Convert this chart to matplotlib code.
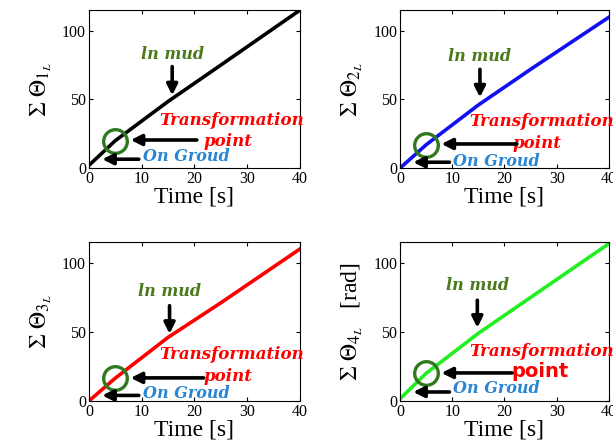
import matplotlib
matplotlib.use("Agg")
import matplotlib.pyplot as plt

plt.rcParams['font.family'] = 'Liberation Serif'
plt.rcParams['mathtext.fontset'] = 'stix'

# time samples [s] and cumulated leg angles [rad]
time = [0, 5, 15, 25, 40]
theta1 = [2, 20, 48.5, 75, 115]
theta2 = [0, 17, 46, 72, 110]
theta3 = [0, 16.5, 46, 71, 110]
theta4 = [1.5, 20, 49, 75, 114]

series = [theta1, theta2, theta3, theta4]
colors = ['black', '#1010f0', '#ff0000', '#22ee22']
ylabels = [r'$\Sigma\ \Theta_{1_L}$', r'$\Sigma\ \Theta_{2_L}$',
           r'$\Sigma\ \Theta_{3_L}$', r'$\Sigma\ \Theta_{4_L}$   [rad]']
xticks = [0, 10, 20, 30, 40]
yticks = [0, 50, 100]

# axes rectangles (left, bottom, width, height)
rects = [[0.145, 0.623, 0.344, 0.354],
         [0.6525, 0.623, 0.341, 0.354],
         [0.145, 0.101, 0.344, 0.356],
         [0.6525, 0.101, 0.341, 0.356]]

# annotation layout for each panel:
# (mud text y, mud arrow x, mud arrow top, mud arrow tip,
#  transf y, point y, transf arrow start x, transf arrow y, ground y, ground arrow y)
layout = [(83, 15.8, 76, 51, 35, 19.3, 21, 20.5, 8.5, 6.5),
          (81, 15.3, 74, 49.5, 33.8, 18, 22.9, 17.6, 4.8, 4.3),
          (79, 15.3, 71, 46.6, 33.5, 17.9, 22.3, 16.7, 5.5, 4.0),
          (83.7, 14.8, 75, 51, 35.9, 21, 22, 20.3, 8.9, 6.5)]

green_txt = '#4a7a1a'
blue_txt = '#2a86d2'
anno_font = dict(family='DejaVu Serif', weight='bold', style='italic')
arrow = dict(arrowstyle='-|>', color='black', lw=2.6, mutation_scale=16)

fig = plt.figure(figsize=(6.13, 4.46), dpi=100)
for i in range(4):
    ax = fig.add_axes(rects[i])
    ax.plot(time, series[i], color=colors[i], lw=2.6)
    # transformation point circle
    ax.plot(time[1], series[i][1], 'o', ms=17, mfc='none', mec='#2f7a1f', mew=2.4)
    ax.set_xlim(0, 40)
    ax.set_ylim(0, 115)
    ax.set_xticks(xticks)
    ax.set_yticks(yticks)
    ax.tick_params(direction='in', top=True, right=True, labelsize=11.5, length=3, pad=2)
    ax.set_xlabel('Time [s]', fontsize=17, labelpad=0)
    ax.set_ylabel(ylabels[i], fontsize=17, labelpad=6)

    my, mx, mtop, mtip, ty, py, tx, tay, gy, gay = layout[i]
    ax.text(mx, my, 'ln mud', color=green_txt, fontsize=11.5, ha='center', va='center', **anno_font)
    ax.annotate('', xy=(mx, mtip), xytext=(mx, mtop), arrowprops=arrow)
    ax.text(13.3, ty, 'Transformation', color='red', fontsize=12, ha='left', va='center',
            clip_on=False, **anno_font)
    if i == 3:
        ax.text(26.7, py, 'point', color='red', fontsize=14, ha='center', va='center',
                family='DejaVu Sans', weight='bold')
    else:
        ax.text(26.3, py, 'point', color='red', fontsize=12, ha='center', va='center', **anno_font)
    ax.annotate('', xy=(7.4, tay), xytext=(tx, tay), arrowprops=arrow)
    ax.text(18.5, gy, 'On Groud', color=blue_txt, fontsize=11.5, ha='center', va='center', **anno_font)
    ax.annotate('', xy=(2.0, gay), xytext=(10.0, gay), arrowprops=arrow)

fig.savefig('out.png', dpi=100)
